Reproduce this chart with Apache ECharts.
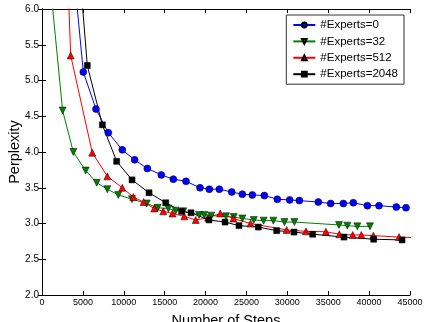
<!DOCTYPE html>
<html>
<head>
<meta charset="utf-8">
<script src="https://cdn.jsdelivr.net/npm/echarts@6/dist/echarts.min.js"></script>
<style>
  html, body { margin: 0; padding: 0; background: #fff; }
  #chart { width: 425px; height: 322px; }
</style>
</head>
<body>
<div id="chart"></div>
<script>
// Perplexity vs. training steps for different numbers of experts
const seriesNames = ['#Experts=0', '#Experts=32', '#Experts=512', '#Experts=2048'];

const steps0 = [3900, 5050, 6600, 8110, 9820, 11330, 12880, 14590, 16060, 17610, 19320, 20460, 21690, 23200, 24500, 25720, 27190, 28780, 30290, 31470, 33790, 35300, 36850, 38070, 39790, 41210, 43330, 44510];
const ppl0 = [6.5, 5.12, 4.60, 4.27, 4.03, 3.89, 3.77, 3.68, 3.62, 3.59, 3.50, 3.48, 3.48, 3.44, 3.41, 3.40, 3.39, 3.34, 3.33, 3.32, 3.30, 3.28, 3.28, 3.29, 3.25, 3.25, 3.23, 3.22];

const steps32 = [885, 2520, 3830, 5340, 6690, 7990, 9330, 11000, 12800, 14150, 15450, 16350, 17280, 19200, 19850, 20700, 22500, 23450, 24500, 25900, 27100, 28290, 29650, 30860, 36320, 37340, 38560, 40110];
const ppl32 = [6.5, 4.58, 4.00, 3.74, 3.57, 3.48, 3.40, 3.34, 3.28, 3.22, 3.21, 3.18, 3.17, 3.12, 3.12, 3.11, 3.10, 3.09, 3.07, 3.05, 3.04, 3.04, 3.02, 3.02, 2.98, 2.97, 2.96, 2.96];

const steps512 = [3140, 3510, 6150, 7990, 9820, 11170, 12430, 13730, 14840, 15960, 17400, 18800, 20300, 21800, 23400, 25500, 29920, 32280, 34710, 36360, 38000, 39050, 40520, 43660, 46000];
const ppl512 = [6.5, 5.35, 3.99, 3.66, 3.50, 3.37, 3.30, 3.21, 3.17, 3.14, 3.10, 3.05, 3.08, 3.14, 3.07, 3.00, 2.91, 2.89, 2.885, 2.85, 2.84, 2.84, 2.83, 2.81, 2.80];

const steps2048 = [4630, 5540, 7380, 9130, 11010, 13090, 15130, 17080, 18220, 20420, 22380, 24090, 26450, 28700, 30820, 33100, 36930, 40560, 44030];
const ppl2048 = [6.5, 5.21, 4.38, 3.87, 3.61, 3.43, 3.29, 3.17, 3.15, 3.05, 3.02, 2.97, 2.95, 2.90, 2.88, 2.85, 2.81, 2.78, 2.77];

const zip = (xs, ys) => xs.map((x, i) => [x, ys[i]]);

const chart = echarts.init(document.getElementById('chart'), null, { renderer: 'canvas' });

const font = '"Liberation Sans", Arial, sans-serif';
const axisLine = { show: true, lineStyle: { color: '#000', width: 1 } };
const axisTick = { show: true, inside: true, length: 4, lineStyle: { color: '#000' } };

function makeSeries(name, data, color, symbol, rotate) {
  return {
    name: name,
    type: 'line',
    data: data,
    symbol: symbol,
    symbolSize: symbol === 'rect' ? 6 : 7,
    symbolRotate: rotate || 0,
    showAllSymbol: true,
    clip: true,
    animation: false,
    lineStyle: { color: color, width: 1 },
    itemStyle: { color: color, borderColor: '#000', borderWidth: 0.5 },
    emphasis: { disabled: true },
  };
}

const option = {
  backgroundColor: '#fff',
  animation: false,
  textStyle: { fontFamily: font },
  grid: { left: 42, right: 15, top: 9, bottom: 27, containLabel: false, outerBoundsMode: 'none' },
  legend: {
    orient: 'vertical',
    right: 21,
    top: 15,
    data: seriesNames,
    backgroundColor: '#fff',
    borderColor: '#333',
    borderWidth: 1,
    padding: [4, 6, 4, 6],
    itemWidth: 22,
    itemHeight: 6,
    itemGap: 4.4,
    textStyle: { fontFamily: font, fontSize: 11.5, color: '#000', lineHeight: 12, height: 12 },
  },
  xAxis: [
    {
      type: 'value',
      position: 'bottom',
      min: 0,
      max: 45000,
      interval: 5000,
      name: 'Number of Steps',
      nameLocation: 'middle',
      nameGap: 18,
      nameTextStyle: { fontFamily: font, fontSize: 14.5, color: '#000' },
      axisLine: axisLine,
      axisTick: axisTick,
      axisLabel: { fontFamily: font, fontSize: 9, color: '#000', margin: 3, formatter: (v) => String(v) },
      splitLine: { show: false },
    },
    {
      type: 'value',
      position: 'top',
      min: 0,
      max: 45000,
      interval: 5000,
      axisLine: axisLine,
      axisTick: axisTick,
      axisLabel: { show: false },
      splitLine: { show: false },
    },
  ],
  yAxis: [
    {
      type: 'value',
      position: 'left',
      min: 2.0,
      max: 6.0,
      interval: 0.5,
      name: 'Perplexity',
      nameLocation: 'middle',
      nameGap: 20,
      nameMoveOverlap: false,
      nameTextStyle: { fontFamily: font, fontSize: 14.5, color: '#000' },
      axisLine: axisLine,
      axisTick: axisTick,
      axisLabel: {
        fontFamily: font, fontSize: 10, color: '#000', margin: 3,
        formatter: (v) => v.toFixed(1),
      },
      splitLine: { show: false },
    },
    {
      type: 'value',
      position: 'right',
      min: 2.0,
      max: 6.0,
      interval: 0.5,
      axisLine: axisLine,
      axisTick: axisTick,
      axisLabel: { show: false },
      splitLine: { show: false },
    },
  ],
  series: [
    makeSeries(seriesNames[0], zip(steps0, ppl0), '#0000ff', 'circle'),
    makeSeries(seriesNames[1], zip(steps32, ppl32), '#008000', 'triangle', 180),
    makeSeries(seriesNames[2], zip(steps512, ppl512), '#ff0000', 'triangle'),
    makeSeries(seriesNames[3], zip(steps2048, ppl2048), '#000000', 'rect'),
  ],
};

chart.setOption(option);
</script>
</body>
</html>
